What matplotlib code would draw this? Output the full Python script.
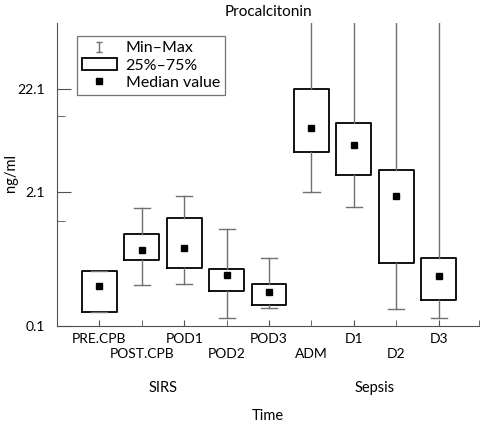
import numpy as np
import matplotlib
matplotlib.use("Agg")
import matplotlib.pyplot as plt
from matplotlib.path import Path
from matplotlib.lines import Line2D
from matplotlib.patches import Rectangle

plt.rcParams['font.family'] = ['Lato', 'DejaVu Sans']

# data (ng/ml)
labels = ['PRE.CPB', 'POST.CPB', 'POD1', 'POD2', 'POD3', 'ADM', 'D1', 'D2', 'D3']
med = [0.247, 0.565, 0.591, 0.322, 0.219, 9.19, 6.24, 1.94, 0.313]
q1 = [0.139, 0.447, 0.372, 0.224, 0.163, 5.28, 3.15, 0.418, 0.182]
q3 = [0.348, 0.815, 1.18, 0.369, 0.262, 22.1, 10.2, 3.53, 0.468]
lo = [0.139, 0.253, 0.26, 0.12, 0.150, 2.12, 1.51, 0.148, 0.119]
hi = [0.348, 1.46, 1.95, 0.918, 0.468, 1000, 1000, 1000, 1000]
groups = ['SIRS', 'Sepsis']
yticks = [0.1, 2.1, 22.1]
yminor = [1.1, 12.1]

fig = plt.figure(figsize=(4.8, 4.22), dpi=100)
ax = fig.add_axes([57/480, 1 - 326/422, 422/480, 303/422])

pos = np.arange(1, len(labels) + 1)
stats = [dict(med=m, q1=a, q3=b, whislo=l, whishi=h)
         for m, a, b, l, h in zip(med, q1, q3, lo, hi)]
ax.bxp(stats, positions=pos, widths=0.82, showfliers=False,
       boxprops=dict(color='black', lw=1.3),
       whiskerprops=dict(color='#707070', lw=1.0),
       capprops=dict(color='#707070', lw=1.0),
       medianprops=dict(visible=False), capwidths=0.38)
ax.plot(pos, med, 's', color='black', ms=5, ls='none')

ax.set_yscale('log')
ax.set_ylim(0.1, 100)
ax.set_xlim(0, 9.95)
ax.set_yticks(yticks)
ax.set_yticklabels([str(t) for t in yticks])
ax.set_yticks(yminor, minor=True)
ax.set_yticklabels([], minor=True)

# two rows of category labels: odd ones as major ticks, even ones as minor
ax.set_xticks(pos[::2])
ax.set_xticklabels(labels[::2])
ax.set_xticks(list(pos[1::2]) + [9.95], minor=True)
ax.set_xticklabels(labels[1::2] + [''], minor=True)

for s in ['top', 'right']:
    ax.spines[s].set_visible(False)
for s in ['left', 'bottom']:
    ax.spines[s].set_color('#505050')
ax.tick_params(axis='x', which='both', direction='in', color='#505050',
               length=4, labelsize=10)
ax.tick_params(axis='x', which='major', pad=5)
ax.tick_params(axis='x', which='minor', pad=16)
ax.tick_params(axis='y', which='major', direction='in', color='#505050',
               length=10, labelsize=10, pad=9)
ax.tick_params(axis='y', which='minor', direction='in', color='#505050', length=6)

ax.set_title('Procalcitonin', fontsize=11, pad=5)
ax.set_ylabel('ng/ml', fontsize=10.5)
ax.yaxis.set_label_coords(-0.092, 0.505)
ax.text(2.5, -0.205, groups[0], transform=ax.get_xaxis_transform(),
        ha='center', va='center', fontsize=10.5)
ax.text(7.5, -0.205, groups[1], transform=ax.get_xaxis_transform(),
        ha='center', va='center', fontsize=10.5)
ax.text(0.5, -0.298, 'Time', transform=ax.transAxes,
        ha='center', va='center', fontsize=10.5)

ibar = Path([(-0.6, -1), (0.6, -1), (0, -1), (0, 1), (-0.6, 1), (0.6, 1)],
            [Path.MOVETO, Path.LINETO, Path.MOVETO, Path.LINETO, Path.MOVETO, Path.LINETO])
h1 = Line2D([], [], marker=ibar, ms=7, mew=1.0, color='#707070', ls='none', fillstyle='none')
h2 = Rectangle((0, 0), 1, 1, facecolor='white', edgecolor='black', lw=1.3)
h3 = Line2D([], [], marker='s', ms=5, color='black', ls='none')
leg = ax.legend([h1, h2, h3], ['Min\u2013Max', '25%\u201375%', 'Median value'],
                loc='upper left', bbox_to_anchor=(0.047, 0.956), fontsize=11.5,
                frameon=True, fancybox=False, edgecolor='#505050',
                handlelength=2.2, handletextpad=0.55, borderpad=0.3,
                labelspacing=0.2, borderaxespad=0)
leg.get_frame().set_linewidth(0.9)

fig.savefig('out.png', dpi=100)
